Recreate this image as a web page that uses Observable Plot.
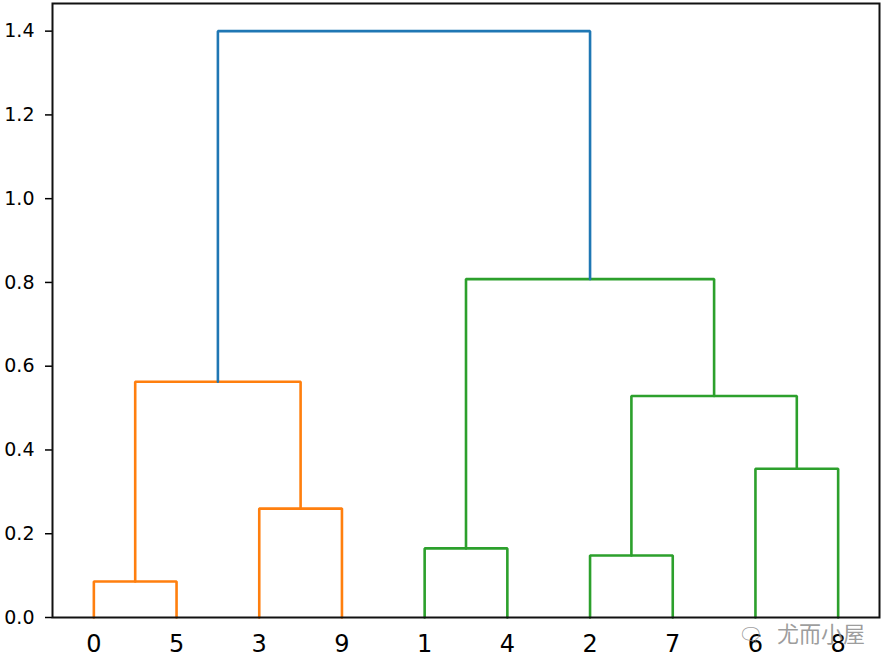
<!DOCTYPE html>
<html>
<head>
<meta charset="utf-8">
<script src="https://cdn.jsdelivr.net/npm/d3@7"></script>
<script src="https://cdn.jsdelivr.net/npm/@observablehq/plot@0.6"></script>
<style>
  html, body { margin: 0; padding: 0; background: #fff; }
  #wrap { position: relative; width: 883px; height: 657px; }
  #wm { position: absolute; left: 738px; top: 616px; font-family: "Noto Sans CJK SC", sans-serif;
        font-size: 22px; color: rgba(140,140,140,0.85); white-space: nowrap; }
  #wm .ic { font-size: 20px; margin-right: 14px; }
</style>
</head>
<body>
<div id="wrap"><div id="chart"></div><div id="wm"><span class="ic">🗨</span>尤而小屋</div></div>
<script>
// Leaf order as drawn (left to right)
const leafLabels = ["0", "5", "3", "9", "1", "4", "2", "7", "6", "8"];
// Merges: left child, right child (leaf label or merge id), height, colour group
const mergeLeft   = ["0", "3", "m0", "1", "2", "6", "m4", "m3", "m2"];
const mergeRight  = ["5", "9", "m1", "4", "7", "8", "m5", "m6", "m7"];
const mergeHeight = [0.086, 0.26, 0.563, 0.165, 0.148, 0.355, 0.529, 0.808, 1.40];
const mergeGroup  = ["C1", "C1", "C1", "C2", "C2", "C2", "C2", "C2", "C0"];
const yTicks = [0.0, 0.2, 0.4, 0.6, 0.8, 1.0, 1.2, 1.4];

const colors = {C0: "#1f77b4", C1: "#ff7f0e", C2: "#2ca02c"};

// compute node positions
const pos = {};
leafLabels.forEach((l, i) => pos[l] = {x: 5 + 10 * i, h: 0});
const segs = [];
mergeHeight.forEach((h, i) => {
  const a = pos[mergeLeft[i]], b = pos[mergeRight[i]];
  const id = "m" + i;
  segs.push({id, g: mergeGroup[i], x: a.x, y: a.h});
  segs.push({id, g: mergeGroup[i], x: a.x, y: h});
  segs.push({id, g: mergeGroup[i], x: b.x, y: h});
  segs.push({id, g: mergeGroup[i], x: b.x, y: b.h});
  pos[id] = {x: (a.x + b.x) / 2, h};
});

const chart = Plot.plot({
  width: 883,
  height: 657,
  marginLeft: 52,
  marginRight: 4,
  marginTop: 3,
  marginBottom: 40,
  style: {fontFamily: "DejaVu Sans, sans-serif", color: "#000", background: "#fff"},
  x: {domain: [0, 100]},
  y: {domain: [0, 1.466]},
  marks: [
    Plot.line(segs, {x: "x", y: "y", z: "id", stroke: d => colors[d.g], strokeWidth: 2.6, strokeLinejoin: "miter", curve: "linear"}),
    Plot.axisY({ticks: yTicks, tickFormat: d => d.toFixed(1), tickSize: 7, tickPadding: 11, fontSize: 19, stroke: "#000", strokeWidth: 1.5, label: null}),
    Plot.axisX({ticks: leafLabels.map((l, i) => 5 + 10 * i), tickFormat: (d, i) => leafLabels[i], tickSize: 0, tickPadding: 17, fontSize: 24, label: null}),
    Plot.frame({stroke: "#111", strokeWidth: 2})
  ]
});
document.getElementById("chart").appendChild(chart);
</script>
</body>
</html>
